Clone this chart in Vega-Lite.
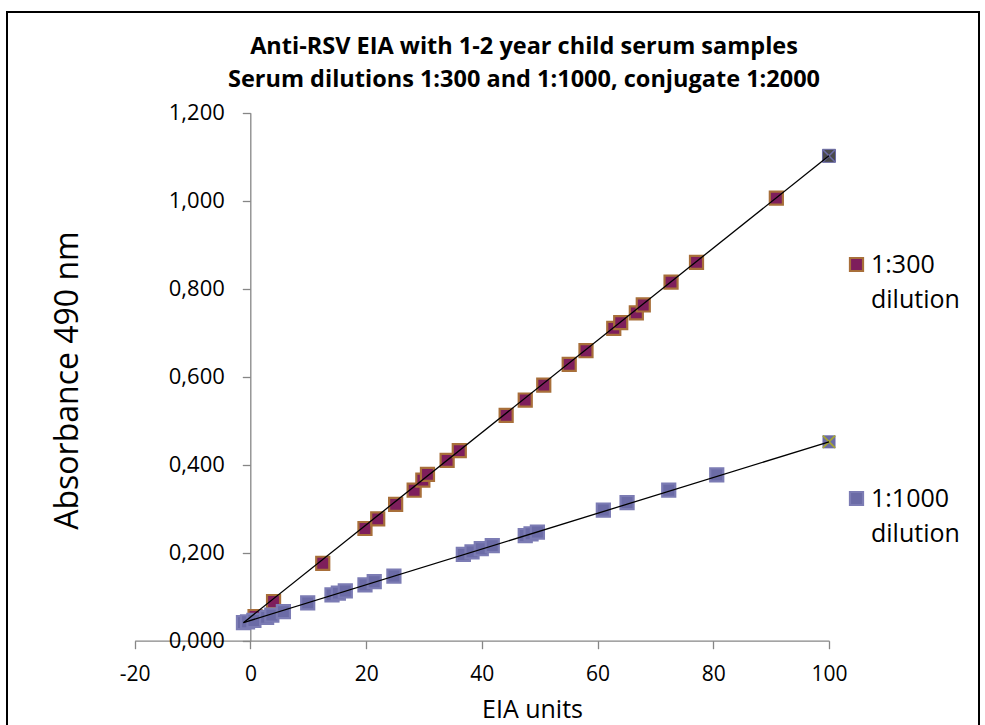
{
  "$schema": "https://vega.github.io/schema/vega-lite/v6.json",
  "width": 972,
  "height": 740,
  "autosize": {"type": "none"},
  "padding": {"left": 7, "top": 12, "right": 6, "bottom": 0},
  "background": "white",
  "config": {
    "view": {"stroke": "#000000", "strokeWidth": 2},
    "font": "Open Sans",
    "style": {"guide-label": {"lineHeight": 35}}
  },
  "title": {
    "text": ["Anti-RSV EIA with 1-2 year child serum samples", "Serum dilutions 1:300 and 1:1000, conjugate 1:2000"],
    "font": "Open Sans",
    "fontSize": 23.5,
    "fontWeight": "bold",
    "color": "#000000",
    "anchor": "middle",
    "frame": "group",
    "lineHeight": 33,
    "offset": -79,
    "dx": 31
  },
  "datasets": {
    "samples": [
      {"series": "1:300 dilution", "eia": 0.8, "abs": 0.055},
      {"series": "1:300 dilution", "eia": 4.0, "abs": 0.089},
      {"series": "1:300 dilution", "eia": 12.5, "abs": 0.176},
      {"series": "1:300 dilution", "eia": 19.8, "abs": 0.255},
      {"series": "1:300 dilution", "eia": 22.0, "abs": 0.277},
      {"series": "1:300 dilution", "eia": 25.1, "abs": 0.310},
      {"series": "1:300 dilution", "eia": 28.3, "abs": 0.342},
      {"series": "1:300 dilution", "eia": 29.8, "abs": 0.365},
      {"series": "1:300 dilution", "eia": 30.6, "abs": 0.378},
      {"series": "1:300 dilution", "eia": 34.0, "abs": 0.410},
      {"series": "1:300 dilution", "eia": 36.1, "abs": 0.432},
      {"series": "1:300 dilution", "eia": 44.2, "abs": 0.512},
      {"series": "1:300 dilution", "eia": 47.5, "abs": 0.547},
      {"series": "1:300 dilution", "eia": 50.7, "abs": 0.581},
      {"series": "1:300 dilution", "eia": 55.1, "abs": 0.628},
      {"series": "1:300 dilution", "eia": 58.0, "abs": 0.659},
      {"series": "1:300 dilution", "eia": 62.8, "abs": 0.710},
      {"series": "1:300 dilution", "eia": 64.0, "abs": 0.723},
      {"series": "1:300 dilution", "eia": 66.7, "abs": 0.745},
      {"series": "1:300 dilution", "eia": 67.9, "abs": 0.763},
      {"series": "1:300 dilution", "eia": 72.7, "abs": 0.815},
      {"series": "1:300 dilution", "eia": 77.1, "abs": 0.860},
      {"series": "1:300 dilution", "eia": 90.9, "abs": 1.006},
      {"series": "1:1000 dilution", "eia": -1.2, "abs": 0.041},
      {"series": "1:1000 dilution", "eia": -0.5, "abs": 0.043},
      {"series": "1:1000 dilution", "eia": 0.6, "abs": 0.046},
      {"series": "1:1000 dilution", "eia": 2.8, "abs": 0.053},
      {"series": "1:1000 dilution", "eia": 3.7, "abs": 0.058},
      {"series": "1:1000 dilution", "eia": 5.7, "abs": 0.066},
      {"series": "1:1000 dilution", "eia": 9.9, "abs": 0.086},
      {"series": "1:1000 dilution", "eia": 14.1, "abs": 0.104},
      {"series": "1:1000 dilution", "eia": 15.2, "abs": 0.108},
      {"series": "1:1000 dilution", "eia": 16.4, "abs": 0.113},
      {"series": "1:1000 dilution", "eia": 19.8, "abs": 0.127},
      {"series": "1:1000 dilution", "eia": 21.4, "abs": 0.134},
      {"series": "1:1000 dilution", "eia": 24.8, "abs": 0.147},
      {"series": "1:1000 dilution", "eia": 36.8, "abs": 0.196},
      {"series": "1:1000 dilution", "eia": 38.3, "abs": 0.202},
      {"series": "1:1000 dilution", "eia": 39.9, "abs": 0.209},
      {"series": "1:1000 dilution", "eia": 41.8, "abs": 0.216},
      {"series": "1:1000 dilution", "eia": 47.5, "abs": 0.239},
      {"series": "1:1000 dilution", "eia": 48.5, "abs": 0.243},
      {"series": "1:1000 dilution", "eia": 49.6, "abs": 0.247},
      {"series": "1:1000 dilution", "eia": 61.0, "abs": 0.297},
      {"series": "1:1000 dilution", "eia": 65.1, "abs": 0.314},
      {"series": "1:1000 dilution", "eia": 72.3, "abs": 0.342},
      {"series": "1:1000 dilution", "eia": 80.6, "abs": 0.377}
    ],
    "standards": [
      {"series": "1:300 dilution", "eia": 100, "abs": 1.102},
      {"series": "1:1000 dilution", "eia": 100, "abs": 0.452}
    ],
    "trend": [
      {"series": "1:300 dilution", "eia": -1.2, "abs": 0.041},
      {"series": "1:300 dilution", "eia": 100, "abs": 1.102},
      {"series": "1:1000 dilution", "eia": -1.2, "abs": 0.041},
      {"series": "1:1000 dilution", "eia": 100, "abs": 0.452}
    ]
  },
  "encoding": {
    "x": {
      "field": "eia",
      "type": "quantitative",
      "scale": {"domain": [-20, 100], "range": [127.7, 822], "nice": false, "zero": false},
      "axis": {
        "orient": "bottom",
        "offset": -111.3,
        "values": [-20, 0, 20, 40, 60, 80, 100],
        "labelExpr": "datum.value + ''",
        "grid": false,
        "domainColor": "#868686",
        "domainWidth": 1.3,
        "tickColor": "#868686",
        "tickWidth": 1.3,
        "tickSize": 8,
        "labelFont": "Open Sans",
        "labelFontSize": 21,
        "labelColor": "#000000",
        "labelBaseline": "middle",
        "labelPadding": 26,
        "labelFlush": false,
        "title": "EIA units",
        "titleFont": "Open Sans",
        "titleFontSize": 25,
        "titleFontWeight": "normal",
        "titleColor": "#000000",
        "titleX": 525,
        "titleY": 69,
        "titleBaseline": "middle",
        "titleAnchor": "middle"
      }
    },
    "y": {
      "field": "abs",
      "type": "quantitative",
      "scale": {"domain": [0, 1.2], "range": [628.7, 100.7], "nice": false, "zero": false},
      "axis": {
        "orient": "left",
        "offset": -243.3,
        "values": [0, 0.2, 0.4, 0.6, 0.8, 1.0, 1.2],
        "labelExpr": "replace(format(datum.value, '.3f'), '.', ',')",
        "grid": false,
        "domainColor": "#868686",
        "domainWidth": 1.3,
        "tickColor": "#868686",
        "tickWidth": 1.3,
        "tickSize": 8,
        "labelFont": "Open Sans",
        "labelFontSize": 22,
        "labelColor": "#000000",
        "labelPadding": 18,
        "labelFlush": false,
        "title": "Absorbance 490 nm",
        "titleFont": "Open Sans",
        "titleFontSize": 32,
        "titleFontWeight": "normal",
        "titleColor": "#000000",
        "titleX": -183,
        "titleY": 368,
        "titleBaseline": "middle",
        "titleAnchor": "middle"
      }
    }
  },
  "layer": [
    {
      "data": {"name": "samples"},
      "mark": {"type": "point", "shape": "square", "filled": true, "size": 170, "opacity": 1, "strokeWidth": 2.2},
      "encoding": {
        "fill": {
          "field": "series",
          "type": "nominal",
          "scale": {"domain": ["1:300 dilution", "1:1000 dilution"], "range": ["#7E1E5C", "#6B6BA6"]},
          "legend": {
            "orient": "none",
            "legendX": 837,
            "legendY": 240,
            "title": null,
            "padding": 0,
            "symbolType": "square",
            "symbolSize": 170,
            "symbolStrokeWidth": 2.2,
            "labelFont": "Open Sans",
            "labelFontSize": 25,
            "labelColor": "#000000",
            "labelExpr": "split(datum.label, ' ')",
            "labelBaseline": "middle",
            "labelOffset": 2,
            "rowPadding": 173
          }
        },
        "stroke": {
          "field": "series",
          "type": "nominal",
          "scale": {"domain": ["1:300 dilution", "1:1000 dilution"], "range": ["#A86F3A", "#7C7CB4"]},
          "legend": {
            "orient": "none",
            "legendX": 837,
            "legendY": 240,
            "title": null,
            "padding": 0,
            "symbolType": "square",
            "symbolSize": 170,
            "symbolStrokeWidth": 2.2,
            "labelFont": "Open Sans",
            "labelFontSize": 25,
            "labelColor": "#000000",
            "labelExpr": "split(datum.label, ' ')",
            "labelBaseline": "middle",
            "labelOffset": 2,
            "rowPadding": 173
          }
        }
      }
    },
    {
      "data": {"name": "standards"},
      "transform": [{"filter": "datum.series === '1:300 dilution'"}],
      "mark": {"type": "point", "shape": "square", "filled": true, "size": 170, "opacity": 1, "color": "#4A4A4A", "stroke": "#6B6BA6", "strokeWidth": 1}
    },
    {
      "data": {"name": "standards"},
      "transform": [{"filter": "datum.series === '1:300 dilution'"}],
      "mark": {"type": "point", "shape": "M-1,-1L1,1M-1,1L1,-1", "filled": false, "size": 150, "opacity": 1, "stroke": "#6B6BA6", "strokeWidth": 1.6}
    },
    {
      "data": {"name": "standards"},
      "transform": [{"filter": "datum.series === '1:1000 dilution'"}],
      "mark": {"type": "point", "shape": "square", "filled": true, "size": 170, "opacity": 1, "color": "#6B6BA6"}
    },
    {
      "data": {"name": "standards"},
      "transform": [{"filter": "datum.series === '1:1000 dilution'"}],
      "mark": {"type": "point", "shape": "M-1,-1L1,1M-1,1L1,-1", "filled": false, "size": 150, "opacity": 1, "stroke": "#A5A533", "strokeWidth": 1.8}
    },
    {
      "data": {"name": "trend"},
      "mark": {"type": "line", "color": "#000000", "strokeWidth": 1.3},
      "encoding": {"detail": {"field": "series", "type": "nominal"}}
    }
  ]
}
